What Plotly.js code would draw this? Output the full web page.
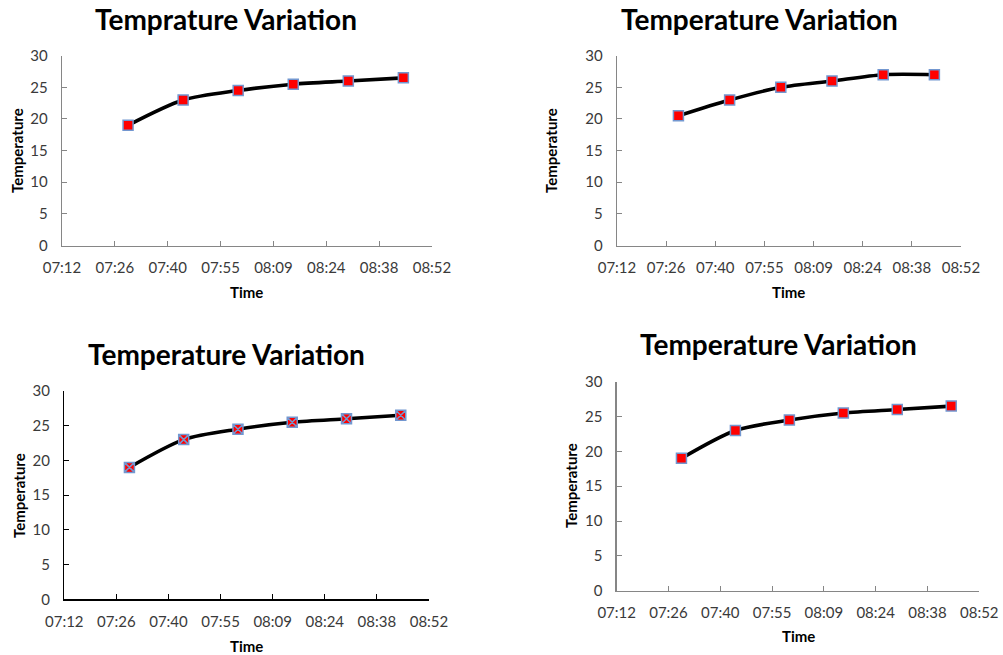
<!DOCTYPE html>
<html>
<head>
<meta charset="utf-8">
<script src="https://cdn.plot.ly/plotly-3.0.1.min.js"></script>
<style>
  html, body { margin: 0; padding: 0; background: #ffffff; }
  #chart { width: 1003px; height: 655px; }
</style>
</head>
<body>
<div id="chart"></div>
<script>
// Reading times (hh:mm) shared by all four runs
const times = ['07:30', '07:45', '08:00', '08:15', '08:30', '08:45'];

// Temperature readings for each run
const tempA = [19, 23, 24.5, 25.5, 26, 26.5];
const tempB = [20.5, 23, 25, 26, 27, 27];
const tempC = [19, 23, 24.5, 25.5, 26, 26.5];
const tempD = [19, 23, 24.5, 25.5, 26, 26.5];

// Chart titles and axis labels
const titles = ['Temprature Variation', 'Temperature Variation', 'Temperature Variation', 'Temperature Variation'];
const xLabel = 'Time';
const yLabel = 'Temperature';

const W = 1003, H = 655;
const day = '2000-01-01 ';
const xs = times.map(t => day + t);

// plot boxes in pixels: [left, right, top, bottom]
const boxes = [
  [62, 432, 55.7, 245.5],
  [617, 961, 55.7, 245.5],
  [64.3, 429, 391, 599.3],
  [616.7, 979.3, 381.7, 590.7]
];
const axisColors = ['#868686', '#868686', '#000000', '#868686'];
const symbols = ['square', 'square', 'square-x', 'square'];
const series = [tempA, tempB, tempC, tempD];

const titlePos = [[226, 19], [759, 19], [226.3, 353.5], [778.7, 344]];
const yTitlePos = [[17, 151], [551, 151], [19, 496], [571, 486]];
const xTitlePos = [[246.7, 292], [788.7, 292], [246.7, 645.5], [798.3, 635.5]];

const tickFont = { family: 'Lato, "Open Sans", sans-serif', size: 15, color: '#3a3a3a' };
const labelFont = { family: 'Lato, "Open Sans", sans-serif', size: 15, color: '#000000', weight: 'bold' };
const titleFont = { family: 'Lato, "Open Sans", sans-serif', size: 28, color: '#000000', weight: 'bold' };

const traces = [];
const layout = {
  width: W, height: H,
  margin: { l: 0, r: 0, t: 0, b: 0 },
  paper_bgcolor: '#ffffff',
  plot_bgcolor: '#ffffff',
  showlegend: false,
  annotations: []
};

series.forEach((ys, i) => {
  const n = i + 1;
  const sfx = n === 1 ? '' : String(n);
  traces.push({
    type: 'scatter',
    mode: 'lines+markers',
    x: xs,
    y: ys,
    xaxis: 'x' + sfx,
    yaxis: 'y' + sfx,
    line: { color: '#000000', width: 3.6, shape: 'spline', smoothing: 0.8 },
    marker: {
      symbol: symbols[i],
      size: 10,
      color: '#ff0000',
      line: { color: '#7397d0', width: 1.5 }
    },
    hoverinfo: 'x+y'
  });

  const b = boxes[i];
  layout['xaxis' + sfx] = {
    type: 'date',
    domain: [b[0] / W, b[1] / W],
    anchor: 'y' + sfx,
    range: [day + '07:12', day + '08:52:48'],
    tick0: day + '07:12',
    dtick: 14.4 * 60 * 1000,
    tickformat: '%H:%M',
    ticks: 'inside',
    ticklen: 5,
    tickcolor: axisColors[i],
    showline: true,
    linecolor: axisColors[i],
    linewidth: 1.3,
    showgrid: false,
    zeroline: false,
    tickfont: tickFont,
    ticklabelstandoff: 8,
    fixedrange: true
  };
  layout['yaxis' + sfx] = {
    domain: [1 - b[3] / H, 1 - b[2] / H],
    anchor: 'x' + sfx,
    range: [0, 30],
    dtick: 5,
    ticks: 'inside',
    ticklen: 5,
    tickcolor: axisColors[i],
    showline: true,
    linecolor: axisColors[i],
    linewidth: 1.3,
    showgrid: false,
    zeroline: false,
    tickfont: tickFont,
    ticklabelstandoff: 10,
    fixedrange: true
  };

  layout.annotations.push({
    text: titles[i], xref: 'paper', yref: 'paper',
    x: titlePos[i][0] / W, y: 1 - titlePos[i][1] / H,
    xanchor: 'center', yanchor: 'middle', showarrow: false, font: titleFont
  });
  layout.annotations.push({
    text: yLabel, xref: 'paper', yref: 'paper', textangle: -90,
    x: yTitlePos[i][0] / W, y: 1 - yTitlePos[i][1] / H,
    xanchor: 'center', yanchor: 'middle', showarrow: false, font: labelFont
  });
  layout.annotations.push({
    text: xLabel, xref: 'paper', yref: 'paper',
    x: xTitlePos[i][0] / W, y: 1 - xTitlePos[i][1] / H,
    xanchor: 'center', yanchor: 'middle', showarrow: false, font: labelFont
  });
});

Plotly.newPlot('chart', traces, layout, { displayModeBar: false, staticPlot: true });
</script>
</body>
</html>
